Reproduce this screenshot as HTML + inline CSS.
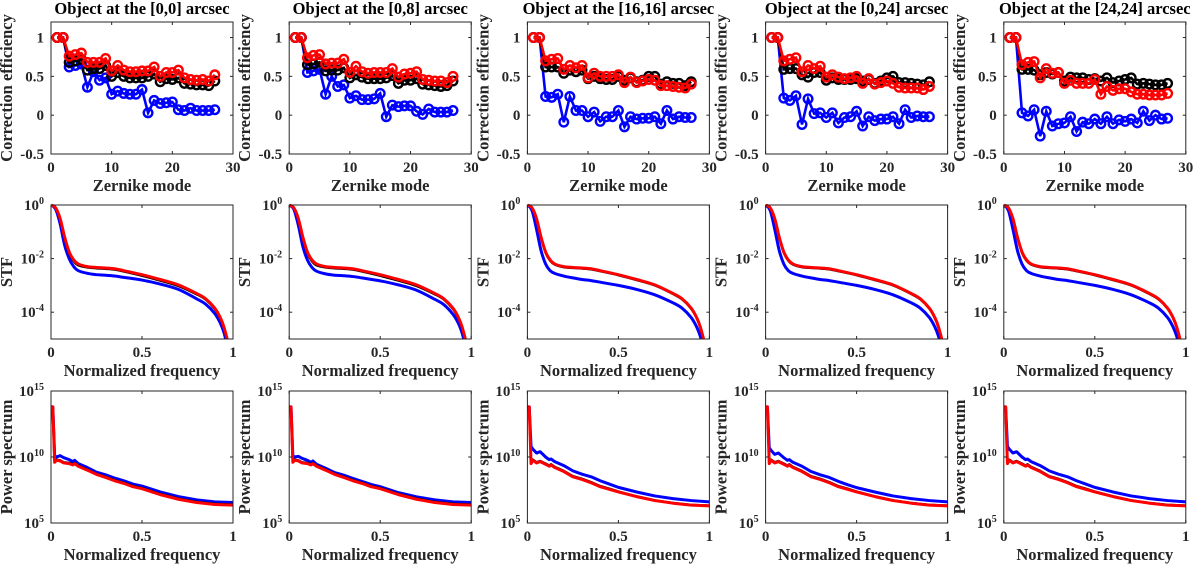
<!DOCTYPE html>
<html><head><meta charset="utf-8">
<style>
html,body{margin:0;padding:0;background:#fff;}
svg{display:block;font-family:"Liberation Serif",serif;font-weight:bold;}
svg text{font-family:"Liberation Serif",serif;font-weight:bold;}
</style></head>
<body>
<svg id="fig" width="1200" height="568" viewBox="0 0 1200 568" xmlns="http://www.w3.org/2000/svg"></svg>
<script>
// ---- data ----
const panelTitles = ["Object at the [0,0] arcsec","Object at the [0,8] arcsec","Object at the [16,16] arcsec","Object at the [0,24] arcsec","Object at the [24,24] arcsec"];
const zernikeModes = [1,2,3,4,5,6,7,8,9,10,11,12,13,14,15,16,17,18,19,20,21,22,23,24,25,26,27];
const effBlue = [
 [1,1,0.62,0.64,0.66,0.36,0.56,0.45,0.48,0.27,0.31,0.28,0.27,0.27,0.33,0.03,0.19,0.15,0.16,0.17,0.07,0.06,0.09,0.06,0.06,0.06,0.07],
 [1,1,0.55,0.57,0.59,0.27,0.5,0.37,0.39,0.22,0.25,0.2,0.2,0.21,0.28,-0.02,0.13,0.11,0.12,0.12,0.05,0.01,0.08,0.04,0.04,0.04,0.06],
 [1,1,0.24,0.23,0.27,-0.09,0.24,0.06,0.06,-0.02,0.04,-0.08,-0.02,-0.02,0.06,-0.15,-0.02,-0.05,-0.04,-0.04,-0.02,-0.11,0.06,-0.05,-0.02,-0.03,-0.03],
 [1,1,0.22,0.19,0.25,-0.12,0.21,0.02,0.03,-0.03,0.03,-0.1,-0.03,-0.02,0.05,-0.14,-0.02,-0.07,-0.05,-0.05,-0.02,-0.11,0.07,-0.03,-0.01,-0.02,-0.02],
 [1,1,0.03,-0.01,0.07,-0.27,0.05,-0.14,-0.11,-0.1,-0.02,-0.21,-0.09,-0.11,-0.05,-0.11,-0.02,-0.11,-0.06,-0.08,-0.05,-0.1,0.05,-0.07,0.0,-0.05,-0.04]
];
const effBlack = [
 [1,1,0.68,0.7,0.72,0.58,0.6,0.6,0.64,0.5,0.55,0.5,0.48,0.48,0.48,0.5,0.53,0.43,0.47,0.46,0.48,0.41,0.4,0.39,0.39,0.38,0.44],
 [1,1,0.65,0.66,0.68,0.57,0.58,0.58,0.61,0.48,0.52,0.49,0.47,0.47,0.47,0.48,0.51,0.41,0.45,0.45,0.47,0.4,0.39,0.38,0.37,0.38,0.44],
 [1,1,0.62,0.62,0.62,0.54,0.58,0.56,0.58,0.47,0.5,0.47,0.46,0.46,0.5,0.45,0.48,0.43,0.45,0.5,0.5,0.4,0.43,0.41,0.41,0.38,0.43],
 [1,1,0.59,0.6,0.6,0.52,0.49,0.55,0.55,0.45,0.48,0.46,0.46,0.46,0.47,0.44,0.46,0.41,0.44,0.48,0.5,0.42,0.42,0.41,0.4,0.39,0.43],
 [1,1,0.59,0.59,0.58,0.52,0.55,0.53,0.55,0.44,0.49,0.48,0.48,0.46,0.47,0.44,0.48,0.42,0.44,0.46,0.48,0.4,0.41,0.4,0.39,0.39,0.41]
];
const effRed = [
 [1,1,0.76,0.78,0.8,0.68,0.68,0.68,0.73,0.57,0.64,0.58,0.56,0.56,0.57,0.57,0.62,0.5,0.55,0.55,0.58,0.48,0.46,0.45,0.46,0.44,0.52],
 [1,1,0.74,0.77,0.78,0.66,0.67,0.67,0.72,0.55,0.63,0.56,0.54,0.55,0.55,0.55,0.6,0.49,0.53,0.54,0.56,0.46,0.45,0.44,0.44,0.42,0.5],
 [1,1,0.7,0.72,0.73,0.59,0.64,0.61,0.64,0.48,0.54,0.5,0.5,0.5,0.52,0.42,0.49,0.42,0.44,0.46,0.45,0.38,0.38,0.37,0.36,0.35,0.4],
 [1,1,0.7,0.72,0.74,0.56,0.64,0.6,0.63,0.49,0.52,0.49,0.47,0.48,0.5,0.41,0.47,0.4,0.42,0.44,0.41,0.36,0.35,0.35,0.35,0.33,0.37],
 [1,1,0.65,0.68,0.69,0.48,0.6,0.54,0.55,0.41,0.45,0.41,0.41,0.41,0.46,0.27,0.37,0.32,0.34,0.34,0.3,0.27,0.27,0.26,0.26,0.26,0.28]
];
// STF (log10 values)
const stfFreq = [0,0.025,0.05,0.075,0.1,0.125,0.15,0.2,0.25,0.3,0.35,0.4,0.5,0.6,0.7,0.8,0.85,0.9,0.93,0.95,0.97];
const stfBlue = [
 [0,-0.15,-0.7,-1.5,-2.0,-2.3,-2.45,-2.55,-2.6,-2.62,-2.65,-2.7,-2.8,-2.95,-3.15,-3.5,-3.7,-4.05,-4.4,-4.75,-5.3],
 [0,-0.15,-0.75,-1.55,-2.05,-2.33,-2.47,-2.57,-2.62,-2.64,-2.67,-2.72,-2.83,-2.98,-3.18,-3.52,-3.72,-4.08,-4.42,-4.78,-5.3],
 [0,-0.2,-0.9,-1.7,-2.2,-2.45,-2.55,-2.65,-2.72,-2.78,-2.82,-2.88,-3.0,-3.15,-3.35,-3.65,-3.85,-4.2,-4.55,-4.9,-5.4],
 [0,-0.2,-0.9,-1.7,-2.2,-2.45,-2.55,-2.65,-2.72,-2.78,-2.82,-2.88,-3.0,-3.15,-3.35,-3.65,-3.85,-4.2,-4.55,-4.9,-5.4],
 [0,-0.2,-0.9,-1.7,-2.2,-2.45,-2.55,-2.65,-2.72,-2.78,-2.82,-2.88,-3.0,-3.15,-3.35,-3.65,-3.85,-4.2,-4.55,-4.9,-5.4]
];
const stfBlack = [
 [0,-0.1,-0.52,-1.25,-1.8,-2.1,-2.25,-2.33,-2.36,-2.38,-2.41,-2.48,-2.64,-2.82,-3.02,-3.33,-3.53,-3.88,-4.23,-4.58,-5.1],
 [0,-0.1,-0.52,-1.25,-1.8,-2.1,-2.25,-2.33,-2.36,-2.38,-2.41,-2.48,-2.64,-2.82,-3.02,-3.33,-3.53,-3.88,-4.23,-4.58,-5.1],
 [0,-0.1,-0.52,-1.22,-1.78,-2.08,-2.22,-2.32,-2.35,-2.37,-2.4,-2.47,-2.62,-2.8,-3.0,-3.32,-3.52,-3.87,-4.22,-4.57,-5.08],
 [0,-0.1,-0.52,-1.22,-1.78,-2.08,-2.22,-2.32,-2.35,-2.37,-2.4,-2.47,-2.62,-2.8,-3.0,-3.32,-3.52,-3.87,-4.22,-4.57,-5.08],
 [0,-0.1,-0.52,-1.22,-1.78,-2.08,-2.22,-2.32,-2.35,-2.37,-2.4,-2.47,-2.62,-2.8,-3.0,-3.32,-3.52,-3.87,-4.22,-4.57,-5.08]
];
const stfRed = [
 [0,-0.1,-0.5,-1.2,-1.75,-2.05,-2.2,-2.3,-2.33,-2.35,-2.38,-2.45,-2.6,-2.78,-2.98,-3.3,-3.5,-3.85,-4.2,-4.55,-5.05],
 [0,-0.1,-0.5,-1.2,-1.75,-2.05,-2.2,-2.3,-2.33,-2.35,-2.38,-2.45,-2.6,-2.78,-2.98,-3.3,-3.5,-3.85,-4.2,-4.55,-5.05],
 [0,-0.1,-0.5,-1.2,-1.75,-2.05,-2.2,-2.3,-2.33,-2.35,-2.38,-2.45,-2.6,-2.78,-2.98,-3.3,-3.5,-3.85,-4.2,-4.55,-5.05],
 [0,-0.1,-0.5,-1.2,-1.75,-2.05,-2.2,-2.3,-2.33,-2.35,-2.38,-2.45,-2.6,-2.78,-2.98,-3.3,-3.5,-3.85,-4.2,-4.55,-5.05],
 [0,-0.1,-0.5,-1.2,-1.75,-2.05,-2.2,-2.3,-2.33,-2.35,-2.38,-2.45,-2.6,-2.78,-2.98,-3.3,-3.5,-3.85,-4.2,-4.55,-5.05]
];
// Power spectrum (log10 values)
const psFreq = [0,0.01,0.02,0.03,0.05,0.07,0.1,0.12,0.13,0.15,0.2,0.25,0.3,0.35,0.4,0.45,0.5,0.6,0.7,0.8,0.9,1.0];
const psBlue = [
 [13.8,13.8,10.1,10.0,10.1,9.95,9.8,9.65,9.75,9.5,9.2,8.85,8.65,8.4,8.2,7.95,7.8,7.35,7.0,6.75,6.6,6.55],
 [13.8,13.8,10.1,10.0,10.05,9.9,9.75,9.6,9.7,9.45,9.15,8.82,8.62,8.38,8.15,7.92,7.75,7.3,6.98,6.75,6.6,6.55],
 [13.8,13.8,10.8,10.6,10.3,10.4,10.0,9.8,9.85,9.65,9.35,8.95,8.7,8.5,8.2,7.95,7.7,7.35,7.05,6.85,6.7,6.6],
 [13.8,13.8,10.7,10.5,10.2,10.3,9.95,9.75,9.8,9.6,9.3,8.9,8.65,8.45,8.15,7.9,7.68,7.35,7.05,6.85,6.7,6.6],
 [13.8,13.8,10.8,10.6,10.3,10.4,10.0,9.8,9.85,9.65,9.35,8.95,8.7,8.5,8.2,7.95,7.7,7.35,7.05,6.85,6.7,6.6]
];
const psBlack = [
 [13.8,13.8,9.6,9.8,9.75,9.6,9.55,9.45,9.55,9.35,9.05,8.72,8.5,8.25,8.05,7.8,7.65,7.2,6.85,6.6,6.45,6.4],
 [13.8,13.8,9.6,9.8,9.75,9.6,9.55,9.45,9.55,9.35,9.05,8.72,8.5,8.25,8.05,7.8,7.65,7.2,6.85,6.6,6.45,6.4],
 [13.8,13.8,9.6,9.8,9.6,9.7,9.5,9.35,9.45,9.25,8.95,8.55,8.35,8.1,7.8,7.6,7.38,7.02,6.72,6.52,6.38,6.32],
 [13.8,13.8,9.6,9.8,9.6,9.7,9.5,9.35,9.45,9.25,8.95,8.55,8.35,8.1,7.8,7.6,7.38,7.02,6.72,6.52,6.38,6.32],
 [13.8,13.8,9.6,9.8,9.6,9.7,9.5,9.35,9.45,9.25,8.95,8.55,8.35,8.1,7.8,7.6,7.38,7.02,6.72,6.52,6.38,6.32]
];
const psRed = [
 [13.8,13.8,9.6,9.75,9.7,9.55,9.5,9.4,9.5,9.3,9.0,8.68,8.45,8.2,8.0,7.75,7.6,7.15,6.8,6.55,6.4,6.35],
 [13.8,13.8,9.6,9.75,9.7,9.55,9.5,9.4,9.5,9.3,9.0,8.68,8.45,8.2,8.0,7.75,7.6,7.15,6.8,6.55,6.4,6.35],
 [13.8,13.8,9.5,9.75,9.55,9.65,9.45,9.3,9.4,9.2,8.9,8.5,8.3,8.05,7.75,7.55,7.35,7.0,6.7,6.5,6.35,6.3],
 [13.8,13.8,9.5,9.75,9.55,9.65,9.45,9.3,9.4,9.2,8.9,8.5,8.3,8.05,7.75,7.55,7.35,7.0,6.7,6.5,6.35,6.3],
 [13.8,13.8,9.5,9.75,9.55,9.65,9.45,9.3,9.4,9.2,8.9,8.5,8.3,8.05,7.75,7.55,7.35,7.0,6.7,6.5,6.35,6.3]
];
const effYTicks = [-0.5,0,0.5,1];
const effXTicks = [0,10,20,30];
const freqTicks = [0,0.5,1];

// ---- drawing ----
const NS = "http://www.w3.org/2000/svg";
const svg = document.getElementById('fig');
function el(tag, attrs, parent){
  const e = document.createElementNS(NS, tag);
  for (const k in attrs) e.setAttribute(k, attrs[k]);
  (parent||svg).appendChild(e);
  return e;
}
const COLW = 238.2, PL = 51, PW = 182;
const rows = [{top:22,h:132},{top:205,h:134},{top:391,h:132}];
const AX = "#262626";
const FONT = '"Liberation Serif", serif';

function scale(d0,d1,r0,r1){ return v => r0 + (v-d0)/(d1-d0)*(r1-r0); }

function smoothPath(pts){
  let d = `M${pts[0][0].toFixed(2)},${pts[0][1].toFixed(2)}`;
  for (let i=0;i<pts.length-1;i++){
    const p0=pts[Math.max(0,i-1)], p1=pts[i], p2=pts[i+1], p3=pts[Math.min(pts.length-1,i+2)];
    const c1=[p1[0]+(p2[0]-p0[0])/6, p1[1]+(p2[1]-p0[1])/6];
    const c2=[p2[0]-(p3[0]-p1[0])/6, p2[1]-(p3[1]-p1[1])/6];
    d += `C${c1[0].toFixed(2)},${c1[1].toFixed(2)} ${c2[0].toFixed(2)},${c2[1].toFixed(2)} ${p2[0].toFixed(2)},${p2[1].toFixed(2)}`;
  }
  return d;
}

function axesFrame(g, x0, y0, w, h, xticks, xs, yticks, ys, ylabelFn, xlabel, ylabel){
  el('rect',{x:x0,y:y0,width:w,height:h,fill:'none',stroke:AX,'stroke-width':1},g);
  xticks.forEach(t=>{
    const x = xs(t);
    el('line',{x1:x,y1:y0+h,x2:x,y2:y0+h-3,stroke:AX},g);
    el('line',{x1:x,y1:y0,x2:x,y2:y0+3,stroke:AX},g);
    const tx = el('text',{x:x,y:y0+h+18,'text-anchor':'middle','font-size':15,'font-family':FONT,'font-weight':'bold',fill:AX},g);
    tx.textContent = String(t);
    
    
  });
  yticks.forEach(t=>{
    const y = ys(t);
    el('line',{x1:x0,y1:y,x2:x0+3,y2:y,stroke:AX},g);
    el('line',{x1:x0+w,y1:y,x2:x0+w-3,y2:y,stroke:AX},g);
    const tx = el('text',{x:x0-7,y:y+5,'text-anchor':'end','font-size':15,'font-family':FONT,'font-weight':'bold',fill:AX},g);
    ylabelFn(tx,t);
    
    
  });
  const xl = el('text',{x:x0+w/2,y:y0+h+37,'text-anchor':'middle','font-size':16.5,'font-family':FONT,'font-weight':'bold',fill:AX},g);
  xl.textContent = xlabel;
  
  
  const cx = x0-39, cy = y0+h/2;
  const yl = el('text',{x:cx,y:cy,'text-anchor':'middle','font-size':16.5,'font-family':FONT,'font-weight':'bold',fill:AX,transform:`rotate(-90 ${cx} ${cy})`},g);
  yl.textContent = ylabel;
  
  
}
function powLabel(tx, t){
  tx.textContent = '10';
  const s = document.createElementNS(NS,'tspan');
  s.setAttribute('dy','-6'); s.setAttribute('font-size','10');
  s.textContent = String(t);
  tx.appendChild(s);
}

for (let c=0;c<5;c++){
  const x0 = PL + c*COLW;
  const xs1 = scale(0,30,x0,x0+PW);
  // Row 1
  {
    const r = rows[0];
    const g = el('g',{});
    
    
    const ys = scale(-0.5,1.2,r.top+r.h,r.top);
    const tt = el('text',{x:x0+PW/2,y:r.top-8,'text-anchor':'middle','font-size':16.5,'font-family':FONT,'font-weight':'bold',fill:'#000'},g);
    tt.textContent = panelTitles[c];
    
    
    axesFrame(g,x0,r.top,PW,r.h,effXTicks,xs1,effYTicks,ys,(tx,t)=>{tx.textContent=String(t);},'Zernike mode','Correction efficiency');
    [[effBlue,'#0000ff','blue'],[effBlack,'#000000','black'],[effRed,'#ff0000','red']].forEach(([arr,col,nm])=>{
      const pts = zernikeModes.map((m,i)=>[xs1(m),ys(arr[c][i])]);
      const sg = el('g',{},g);
      
      
      el('polyline',{points:pts.map(p=>p.join(',')).join(' '),fill:'none',stroke:col,'stroke-width':2.6},sg);
      pts.forEach(p=>{
        const m = el('circle',{cx:p[0],cy:p[1],r:4.3,fill:'none',stroke:col,'stroke-width':2.4},sg);
        
        
      });
    });
  }
  // Row 2 STF
  {
    const r = rows[1];
    const g = el('g',{});
    
    
    const xs = scale(0,1,x0,x0+PW);
    const ys = scale(-5,0,r.top+r.h,r.top);
    const cp = el('clipPath',{id:'clipS'+c},g);
    el('rect',{x:x0,y:r.top-3,width:PW,height:r.h+3},cp);
    [[stfBlue,'#0000ff','blue'],[stfBlack,'#000000','black'],[stfRed,'#ff0000','red']].forEach(([arr,col,nm])=>{
      const pts = stfFreq.map((f,i)=>[xs(f),ys(arr[c][i])]);
      const p = el('path',{d:smoothPath(pts),fill:'none',stroke:col,'stroke-width':nm==='black'?2.4:3,'clip-path':`url(#clipS${c})`},g);
      
      
    });
    axesFrame(g,x0,r.top,PW,r.h,freqTicks,xs,[-4,-2,0],ys,powLabel,'Normalized frequency','STF');
  }
  // Row 3 Power spectrum
  {
    const r = rows[2];
    const g = el('g',{});
    
    
    const xs = scale(0,1,x0,x0+PW);
    const ys = scale(5,15,r.top+r.h,r.top);
    [[psBlue,'#0000ff','blue'],[psBlack,'#000000','black'],[psRed,'#ff0000','red']].forEach(([arr,col,nm])=>{
      const pts = psFreq.map((f,i)=>[xs(f),ys(arr[c][i])]);
      const p = el('polyline',{points:pts.map(q=>q[0].toFixed(2)+','+q[1].toFixed(2)).join(' '),fill:'none',stroke:col,'stroke-width':nm==='black'?2.4:3,'stroke-linejoin':'round'},g);
      
      
    });
    axesFrame(g,x0,r.top,PW,r.h,freqTicks,xs,[5,10,15],ys,powLabel,'Normalized frequency','Power spectrum');
  }
}
</script>
</body></html>
